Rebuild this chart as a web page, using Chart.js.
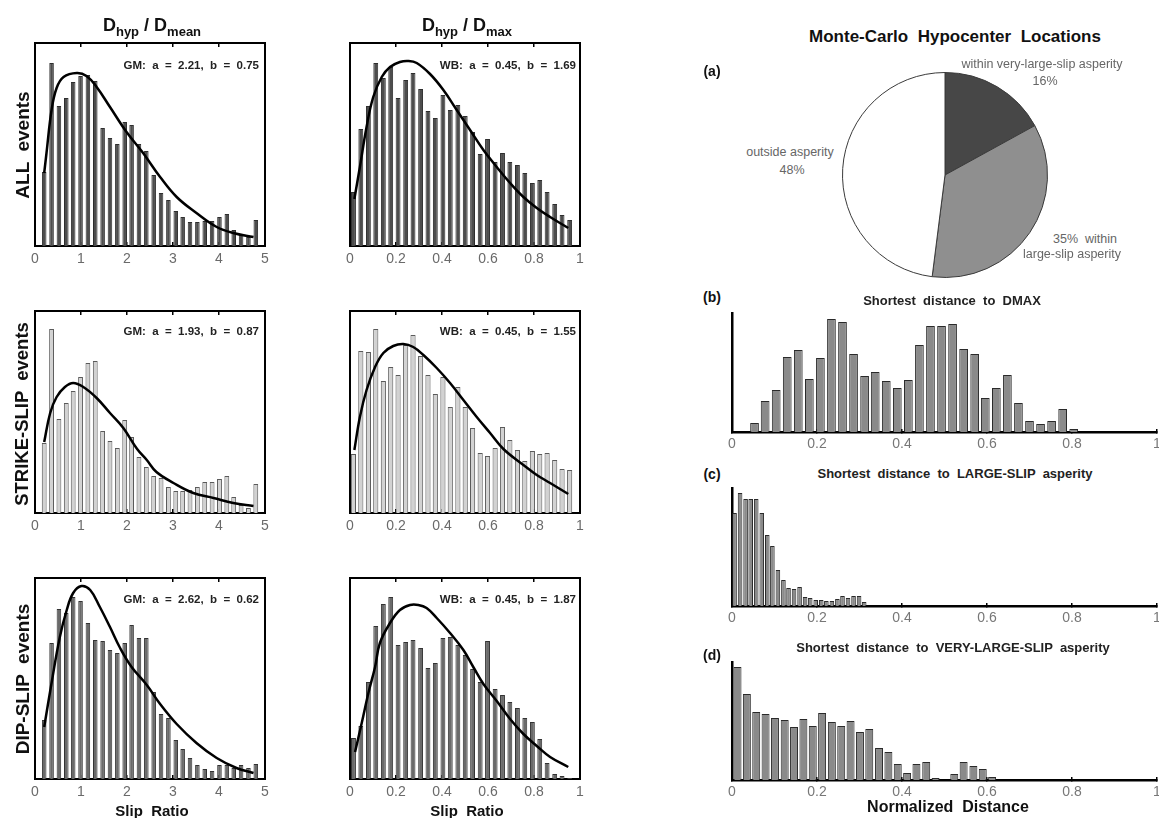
<!DOCTYPE html>
<html><head><meta charset="utf-8">
<script src="https://cdn.jsdelivr.net/npm/chart.js@4.4.0/dist/chart.umd.min.js"></script>
<style>
html,body{margin:0;padding:0;background:#fff;overflow:hidden;width:1159px;height:818px;}
body{position:relative;font-family:"Liberation Sans",Arial,sans-serif;color:#111;}
canvas{position:absolute;}
.t{position:absolute;white-space:pre;line-height:1;transform:translate(-50%,-50%);}
.r{transform:translate(-100%,-50%);}
.b{font-weight:bold;}
.rot{transform:translate(-50%,-50%) rotate(-90deg);font-size:19px;font-weight:bold;}
.sub{font-size:13px;position:relative;top:5px;}
.ttl{font-size:18px;font-weight:bold;}
.fit{font-size:11.5px;font-weight:bold;color:#222;}
.pl{font-size:12.5px;color:#666;text-align:center;}
.ht{font-size:13px;font-weight:bold;color:#222;}
.lab{font-size:14px;font-weight:bold;}
</style></head><body>
<canvas id="a1"></canvas><canvas id="a2"></canvas>
<canvas id="b1"></canvas><canvas id="b2"></canvas>
<canvas id="c1"></canvas><canvas id="c2"></canvas>
<canvas id="pie"></canvas>
<canvas id="hb"></canvas><canvas id="hc"></canvas><canvas id="hd"></canvas>

<div class="t ttl" style="left:152px;top:25px;">D<span class="sub">hyp</span> / D<span class="sub">mean</span></div>
<div class="t ttl" style="left:467px;top:25px;">D<span class="sub">hyp</span> / D<span class="sub">max</span></div>
<div class="t rot" style="left:22px;top:145px;">ALL  events</div>
<div class="t rot" style="left:22px;top:414px;font-size:18.5px;">STRIKE-SLIP  events</div>
<div class="t rot" style="left:22px;top:679px;">DIP-SLIP  events</div>
<div class="t r fit" style="left:259px;top:66px;">GM:  a  =  2.21,  b  =  0.75</div>
<div class="t r fit" style="left:576px;top:66px;">WB:  a  =  0.45,  b  =  1.69</div>
<div class="t r fit" style="left:259px;top:332px;">GM:  a  =  1.93,  b  =  0.87</div>
<div class="t r fit" style="left:576px;top:332px;">WB:  a  =  0.45,  b  =  1.55</div>
<div class="t r fit" style="left:259px;top:600px;">GM:  a  =  2.62,  b  =  0.62</div>
<div class="t r fit" style="left:576px;top:600px;">WB:  a  =  0.45,  b  =  1.87</div>
<div class="t" style="left:152px;top:810px;font-size:15px;font-weight:bold;">Slip  Ratio</div>
<div class="t" style="left:467px;top:810px;font-size:15px;font-weight:bold;">Slip  Ratio</div>

<div class="t b" style="left:955px;top:36px;font-size:17px;">Monte-Carlo  Hypocenter  Locations</div>
<div class="t lab" style="left:712px;top:71px;">(a)</div>
<div class="t pl" style="left:1042px;top:64px;">within very-large-slip asperity</div>
<div class="t pl" style="left:1045px;top:81px;">16%</div>
<div class="t pl" style="left:790px;top:152px;">outside asperity</div>
<div class="t pl" style="left:792px;top:170px;">48%</div>
<div class="t pl" style="left:1085px;top:239px;">35%  within</div>
<div class="t pl" style="left:1072px;top:254px;">large-slip asperity</div>

<div class="t lab" style="left:712px;top:297px;">(b)</div>
<div class="t ht" style="left:952px;top:300px;">Shortest  distance  to  DMAX</div>
<div class="t lab" style="left:712px;top:474px;">(c)</div>
<div class="t ht" style="left:955px;top:473px;">Shortest  distance  to  LARGE-SLIP  asperity</div>
<div class="t lab" style="left:712px;top:655px;">(d)</div>
<div class="t ht" style="left:953px;top:647px;">Shortest  distance  to  VERY-LARGE-SLIP  asperity</div>
<div class="t" style="left:948px;top:807px;font-size:16px;font-weight:bold;">Normalized  Distance</div>

<script>
// ---------- tick labels ----------
const slipTickVals = [0, 1, 2, 3, 4, 5];
const slipTickLabels = ['0', '1', '2', '3', '4', '5'];
const ratioTickVals = [0, 0.2, 0.4, 0.6, 0.8, 1];
const ratioTickLabels = ['0', '0.2', '0.4', '0.6', '0.8', '1'];

// ---------- bin centres (categories) ----------
const slipBins = [0.20,0.36,0.52,0.68,0.83,0.99,1.15,1.31,1.47,1.63,1.79,1.95,2.10,2.26,2.42,2.58,2.74,2.90,3.06,3.21,3.37,3.53,3.69,3.85,4.01,4.17,4.32,4.48,4.64,4.80];
const ratioBins = [0.015,0.047,0.080,0.112,0.145,0.177,0.209,0.242,0.274,0.307,0.339,0.371,0.404,0.436,0.469,0.501,0.533,0.566,0.598,0.631,0.663,0.695,0.728,0.760,0.793,0.825,0.857,0.890,0.922,0.955];
const dmaxBins = [0.053,0.078,0.104,0.130,0.156,0.182,0.208,0.234,0.260,0.286,0.312,0.337,0.363,0.389,0.415,0.441,0.467,0.493,0.519,0.545,0.571,0.596,0.622,0.648,0.674,0.700,0.726,0.752,0.778,0.804];
const largeBins = [0.006,0.019,0.032,0.044,0.057,0.070,0.083,0.095,0.108,0.121,0.133,0.146,0.159,0.172,0.184,0.197,0.210,0.222,0.235,0.248,0.260,0.273,0.286,0.299,0.311];
const veryBins = [0.013,0.035,0.057,0.079,0.101,0.124,0.146,0.168,0.190,0.212,0.235,0.257,0.279,0.301,0.323,0.346,0.368,0.390,0.412,0.434,0.457,0.479,0.501,0.523,0.545,0.568,0.590,0.612];

// ---------- histogram values (relative counts) ----------
const allMean   = [74,183,140,148,164,170,171,165,118,108,102,124,121,102,95,71,53,46,35,29,24,24,25,25,29,32,16,11,9,26];
const allMax    = [54,117,140,183,168,179,148,166,173,157,135,128,151,136,141,130,114,92,107,84,93,84,81,73,63,66,54,42,31,26];
const ssMean    = [70,184,94,110,122,136,150,152,82,72,65,93,76,56,46,37,35,26,22,22,23,26,31,31,34,37,16,8,5,29];
const ssMax     = [59,162,161,184,132,146,138,168,178,157,138,119,136,106,126,106,85,60,57,65,86,73,63,52,62,59,60,53,44,43];
const dsMean    = [59,136,170,166,182,178,156,139,138,129,126,136,154,141,141,87,65,61,39,30,21,14,10,8,14,14,11,14,11,15];
const dsMax     = [41,53,97,153,175,182,134,137,139,131,111,116,141,142,134,124,110,97,138,90,84,77,71,61,57,40,16,5,3,1];
const distDmax  = [9,31,42,75,82,53,74,113,110,78,56,60,51,44,52,87,106,106,108,83,78,34,44,57,29,11,8,11,23,3];
const distLarge = [93,113,107,107,107,93,71,60,36,26,18,17,19,9,8,6,6,5,5,7,10,8,10,10,4];
const distVery  = [113,86,68,66,62,60,53,61,54,67,58,54,59,48,51,32,28,16,7,16,18,2,0,6,18,14,11,3];

// ---------- fitted curves ----------
const allMeanFitX = [0.2,0.25,0.36,0.47,0.62,0.91,1.12,1.34,1.63,1.99,2.35,2.72,3.08,3.51,3.95,4.31,4.75];
const allMeanFitY = [73,93,136,158,169,173,170,159,139,114,93,69,49,33,19,13,9];
const allMaxFitX  = [0.019,0.043,0.072,0.101,0.138,0.174,0.217,0.254,0.29,0.348,0.406,0.464,0.522,0.58,0.638,0.696,0.754,0.812,0.87,0.949];
const allMaxFitY  = [47,79,119,149,169,179,184,185,183,172,156,136,116,96,79,63,49,38,29,18];
const ssMeanFitX  = [0.2,0.33,0.47,0.65,0.83,1.05,1.34,1.63,1.92,2.22,2.43,2.64,3.01,3.44,3.88,4.31,4.75];
const ssMeanFitY  = [71,100,116,126,130,126,115,100,85,64,53,41,30,20,15,10,7];
const ssMaxFitX   = [0.019,0.043,0.072,0.109,0.145,0.188,0.232,0.275,0.319,0.377,0.435,0.493,0.551,0.609,0.667,0.754,0.812,0.87,0.949];
const ssMaxFitY   = [63,96,123,146,160,167,169,166,158,145,130,113,96,80,64,48,38,30,19];
const dsMeanFitX  = [0.2,0.36,0.54,0.69,0.83,1.01,1.2,1.41,1.63,1.85,2.1,2.43,2.72,3.08,3.51,3.95,4.38,4.75];
const dsMeanFitY  = [52,96,142,169,186,193,189,172,152,131,112,94,75,55,36,21,11,6];
const dsMaxFitX   = [0.022,0.051,0.08,0.109,0.13,0.174,0.217,0.261,0.297,0.333,0.377,0.435,0.493,0.536,0.58,0.638,0.696,0.754,0.812,0.87,0.949];
const dsMaxFitY   = [27,56,86,112,136,156,169,174,174,171,161,146,129,112,95,78,60,45,33,22,12];

// ---------- pie ----------
const pieLabels = ['within very-large-slip asperity', 'within large-slip asperity', 'outside asperity'];
const pieValues = [17, 35, 48];

const FONT = 'Liberation Sans';
Chart.defaults.font.family = FONT;

function hist(id, area, d) {
  const padL = 14, padR = d.padR || 14, padT = 6, axisH = 26;
  const cv = document.getElementById(id);
  cv.width = area.w + padL + padR; cv.height = area.h + padT + axisH;
  cv.style.left = (area.x - padL) + 'px'; cv.style.top = (area.y - padT) + 'px';
  const setTicks = s => { s.ticks = d.tickVals.map(v => ({value: v})); };
  const datasets = [];
  if (d.fitX) {
    datasets.push({type: 'line', data: d.fitX.map((x, i) => ({x: x, y: d.fitY[i]})),
      borderColor: '#000', borderWidth: 2.5, pointRadius: 0, fill: false,
      tension: 0.4, order: 0});
  }
  datasets.push({type: 'bar', data: d.bins.map((x, i) => ({x: x, y: d.vals[i]})),
    backgroundColor: d.fill, borderColor: d.edge, borderWidth: 1, borderSkipped: 'bottom',
    barPercentage: d.barPct, categoryPercentage: 1, order: 1});
  const scales = {
    x: {type: 'linear', position: 'bottom', min: 0, max: d.xmax, offset: false,
      afterBuildTicks: setTicks, afterFit: s => { s.height = axisH; },
      ticks: {autoSkip: false, maxRotation: 0, minRotation: 0, padding: d.tickPad, color: d.tickColor,
        font: {family: FONT, size: 14}, callback: (v, i) => d.tickLabels[i]},
      grid: {display: true, drawOnChartArea: false, drawTicks: true, tickLength: d.tickLen, color: '#000', lineWidth: 1.5, offset: false},
      border: {display: true, color: '#000', width: d.axisW}},
    y: {type: 'linear', position: 'left', min: 0, max: d.ymax,
      afterFit: s => { s.width = 0; }, ticks: {display: false}, grid: {display: false},
      border: {display: true, color: '#000', width: d.axisW}}
  };
  if (d.box) {
    scales.xTop = {type: 'linear', position: 'top', min: 0, max: d.xmax, offset: false,
      afterBuildTicks: setTicks, afterFit: s => { s.height = 0; }, ticks: {display: false},
      grid: {display: true, drawOnChartArea: false, drawTicks: true, tickLength: -4, color: '#000', lineWidth: 1.5, offset: false},
      border: {display: true, color: '#000', width: d.axisW}};
    scales.yRight = {type: 'linear', position: 'right', min: 0, max: 1,
      afterFit: s => { s.width = 0; }, ticks: {display: false}, grid: {display: false},
      border: {display: true, color: '#000', width: d.axisW}};
  }
  new Chart(cv, {type: 'bar', data: {datasets: datasets}, options: {
    responsive: false, animation: false, events: [],
    layout: {padding: {left: padL, right: padR, top: padT, bottom: 0}},
    plugins: {legend: {display: false}, tooltip: {enabled: false}},
    scales: scales}});
}

const leftCommon = {box: true, axisW: 2, tickLen: -4, tickPad: 9, tickColor: '#6a6a6a'};
const slipAx = {xmax: 5, tickVals: slipTickVals, tickLabels: slipTickLabels, bins: slipBins};
const ratioAx = {xmax: 1, tickVals: ratioTickVals, tickLabels: ratioTickLabels, bins: ratioBins};
const darkBar = {fill: '#4d4d4d', edge: '#2e2e2e', barPct: 0.66};
const lightBar = {fill: '#d2d2d2', edge: '#5a5a5a', barPct: 0.7};
const midBar = {fill: '#6a6a6a', edge: '#333333', barPct: 0.66};

hist('a1', {x: 35, y: 43, w: 230, h: 203}, Object.assign({}, leftCommon, slipAx, darkBar, {ymax: 203, vals: allMean, fitX: allMeanFitX, fitY: allMeanFitY}));
hist('a2', {x: 350, y: 43, w: 230, h: 203}, Object.assign({}, leftCommon, ratioAx, darkBar, {ymax: 203, vals: allMax, fitX: allMaxFitX, fitY: allMaxFitY}));
hist('b1', {x: 35, y: 311, w: 230, h: 202}, Object.assign({}, leftCommon, slipAx, lightBar, {ymax: 202, vals: ssMean, fitX: ssMeanFitX, fitY: ssMeanFitY}));
hist('b2', {x: 350, y: 311, w: 230, h: 202}, Object.assign({}, leftCommon, ratioAx, lightBar, {ymax: 202, vals: ssMax, fitX: ssMaxFitX, fitY: ssMaxFitY}));
hist('c1', {x: 35, y: 578, w: 230, h: 201}, Object.assign({}, leftCommon, slipAx, midBar, {ymax: 201, vals: dsMean, fitX: dsMeanFitX, fitY: dsMeanFitY}));
hist('c2', {x: 350, y: 578, w: 230, h: 201}, Object.assign({}, leftCommon, ratioAx, midBar, {ymax: 201, vals: dsMax, fitX: dsMaxFitX, fitY: dsMaxFitY}));

const rightCommon = {box: false, axisW: 2.5, tickLen: -3, tickPad: 7, tickColor: '#777', xmax: 1,
  tickVals: ratioTickVals, tickLabels: ratioTickLabels, fill: '#8a8a8a', edge: '#2a2a2a', padR: 23};
hist('hb', {x: 732, y: 313, w: 425, h: 119}, Object.assign({}, rightCommon, {ymax: 119, bins: dmaxBins, vals: distDmax, barPct: 0.82}));
hist('hc', {x: 732, y: 488, w: 425, h: 118}, Object.assign({}, rightCommon, {ymax: 118, bins: largeBins, vals: distLarge, barPct: 0.9}));
hist('hd', {x: 732, y: 662, w: 425, h: 118}, Object.assign({}, rightCommon, {ymax: 118, bins: veryBins, vals: distVery, barPct: 0.85}));

// pie
const pc = document.getElementById('pie');
pc.width = 208; pc.height = 208; pc.style.left = '841px'; pc.style.top = '71px';
new Chart(pc, {type: 'pie', data: {labels: pieLabels, datasets: [{data: pieValues,
  backgroundColor: ['#474747', '#8f8f8f', '#ffffff'], borderColor: '#3a3a3a', borderWidth: 1}]},
  options: {responsive: false, animation: false, events: [], layout: {padding: 1},
    plugins: {legend: {display: false}, tooltip: {enabled: false}}}});
</script>
</body></html>
